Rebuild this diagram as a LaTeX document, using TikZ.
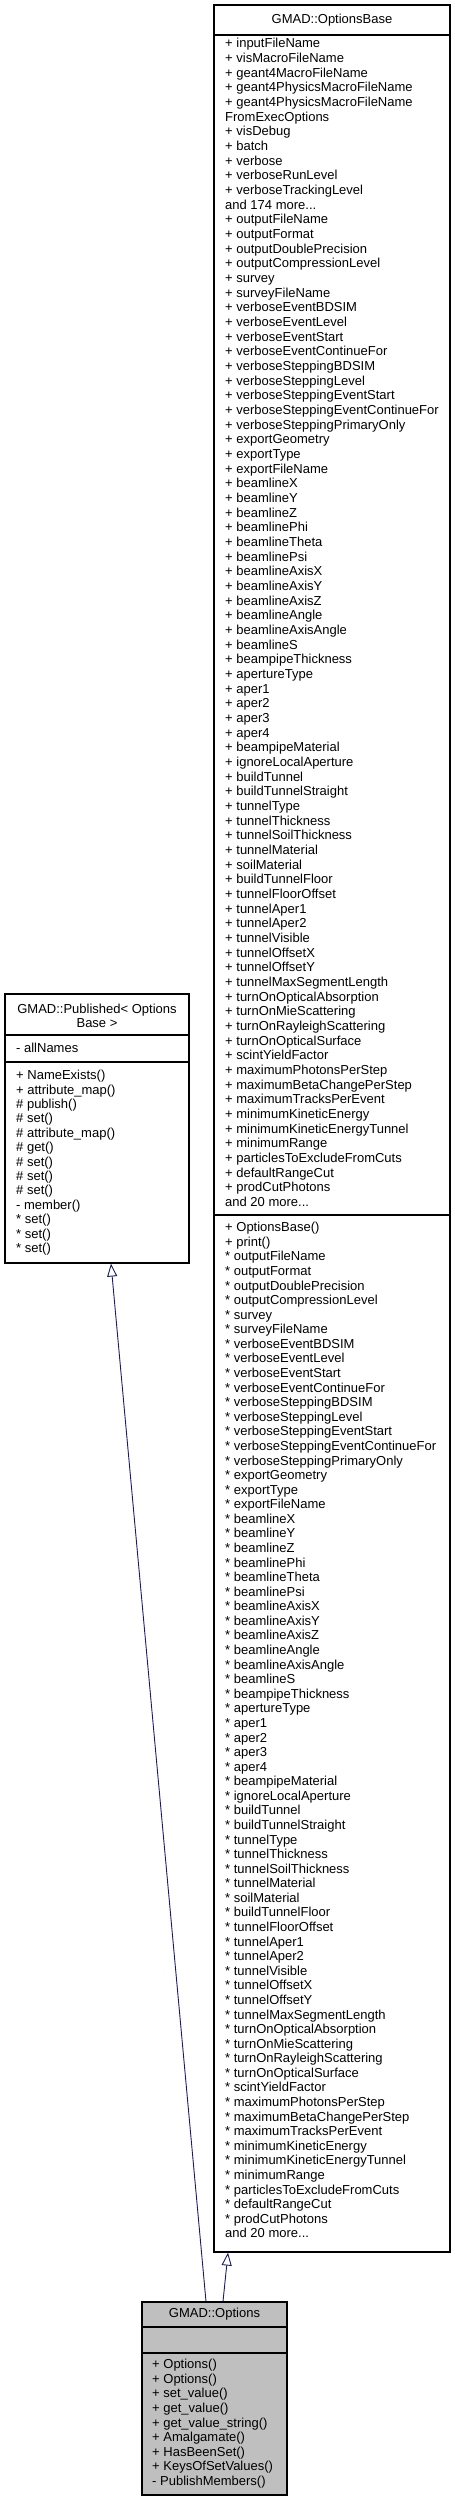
\documentclass[tikz,border=0pt]{standalone}
\usepackage{fontspec}
\setmainfont{Liberation Sans}
\usetikzlibrary{arrows.meta}
\definecolor{edgeblue}{RGB}{25,25,112}
\definecolor{optfill}{RGB}{191,191,191}
\newcommand\mydots{...}
\tikzset{
  classbox/.style={draw=black, line width=1.1pt, inner sep=0pt, fill=white},
  txt/.style={inner sep=0pt, anchor=base west, font=\fontsize{13}{15}\selectfont},
  ttl/.style={inner sep=0pt, anchor=base, font=\fontsize{13}{15}\selectfont},
  sepline/.style={draw=black, line width=1.1pt},
  inherit/.style={draw=edgeblue, line width=0.9pt, -{Triangle[open, length=13pt, width=10pt, fill=white]}}
}
\begin{document}
\begin{tikzpicture}[x=1pt,y=-1pt]
\useasboundingbox (0,0) rectangle (455,2501);
% boxes
\node[classbox, minimum width=236pt, minimum height=2247pt] (ob) at (332,1128.5) {};
\node[classbox, minimum width=184pt, minimum height=269pt] (pub) at (97,1128.5) {};
\node[classbox, fill=optfill, minimum width=145pt, minimum height=193pt] (opt) at (214.5,2398.5) {};
% separators
\draw[sepline] (ob.west |- 0,35) -- (ob.east |- 0,35);
\draw[sepline] (ob.west |- 0,1215) -- (ob.east |- 0,1215);
\draw[sepline] (pub.west |- 0,1035) -- (pub.east |- 0,1035);
\draw[sepline] (pub.west |- 0,1062) -- (pub.east |- 0,1062);
\draw[sepline] (opt.west |- 0,2327) -- (opt.east |- 0,2327);
\draw[sepline] (opt.west |- 0,2353) -- (opt.east |- 0,2353);
% OptionsBase
\node[ttl] (obt) at (332,23) {GMAD::OptionsBase};
\foreach \t [count=\i] in {
+ inputFileName, + visMacroFileName, + geant4MacroFileName, + geant4PhysicsMacroFileName,
+ geant4PhysicsMacroFileName, FromExecOptions, + visDebug, + batch, + verbose,
+ verboseRunLevel, + verboseTrackingLevel, and 174 more\mydots, + outputFileName,
+ outputFormat, + outputDoublePrecision, + outputCompressionLevel, + survey,
+ surveyFileName, + verboseEventBDSIM, + verboseEventLevel, + verboseEventStart,
+ verboseEventContinueFor, + verboseSteppingBDSIM, + verboseSteppingLevel,
+ verboseSteppingEventStart, + verboseSteppingEventContinueFor,
+ verboseSteppingPrimaryOnly, + exportGeometry, + exportType, + exportFileName,
+ beamlineX, + beamlineY, + beamlineZ, + beamlinePhi, + beamlineTheta, + beamlinePsi,
+ beamlineAxisX, + beamlineAxisY, + beamlineAxisZ, + beamlineAngle, + beamlineAxisAngle,
+ beamlineS, + beampipeThickness, + apertureType, + aper1, + aper2, + aper3, + aper4,
+ beampipeMaterial, + ignoreLocalAperture, + buildTunnel, + buildTunnelStraight,
+ tunnelType, + tunnelThickness, + tunnelSoilThickness, + tunnelMaterial, + soilMaterial,
+ buildTunnelFloor, + tunnelFloorOffset, + tunnelAper1, + tunnelAper2, + tunnelVisible,
+ tunnelOffsetX, + tunnelOffsetY, + tunnelMaxSegmentLength, + turnOnOpticalAbsorption,
+ turnOnMieScattering, + turnOnRayleighScattering, + turnOnOpticalSurface,
+ scintYieldFactor, + maximumPhotonsPerStep, + maximumBetaChangePerStep,
+ maximumTracksPerEvent, + minimumKineticEnergy, + minimumKineticEnergyTunnel,
+ minimumRange, + particlesToExcludeFromCuts, + defaultRangeCut, + prodCutPhotons,
and 20 more\mydots}
  \node[txt] (oba\i) at (225,{47.7+14.67*(\i-1)}) {\t};
\foreach \t [count=\i] in {
+ OptionsBase(), + print(), * outputFileName, * outputFormat, * outputDoublePrecision,
* outputCompressionLevel, * survey, * surveyFileName, * verboseEventBDSIM,
* verboseEventLevel, * verboseEventStart, * verboseEventContinueFor,
* verboseSteppingBDSIM, * verboseSteppingLevel, * verboseSteppingEventStart,
* verboseSteppingEventContinueFor, * verboseSteppingPrimaryOnly, * exportGeometry,
* exportType, * exportFileName, * beamlineX, * beamlineY, * beamlineZ, * beamlinePhi,
* beamlineTheta, * beamlinePsi, * beamlineAxisX, * beamlineAxisY, * beamlineAxisZ,
* beamlineAngle, * beamlineAxisAngle, * beamlineS, * beampipeThickness, * apertureType,
* aper1, * aper2, * aper3, * aper4, * beampipeMaterial, * ignoreLocalAperture,
* buildTunnel, * buildTunnelStraight, * tunnelType, * tunnelThickness,
* tunnelSoilThickness, * tunnelMaterial, * soilMaterial, * buildTunnelFloor,
* tunnelFloorOffset, * tunnelAper1, * tunnelAper2, * tunnelVisible, * tunnelOffsetX,
* tunnelOffsetY, * tunnelMaxSegmentLength, * turnOnOpticalAbsorption,
* turnOnMieScattering, * turnOnRayleighScattering, * turnOnOpticalSurface,
* scintYieldFactor, * maximumPhotonsPerStep, * maximumBetaChangePerStep,
* maximumTracksPerEvent, * minimumKineticEnergy, * minimumKineticEnergyTunnel,
* minimumRange, * particlesToExcludeFromCuts, * defaultRangeCut, * prodCutPhotons,
and 20 more\mydots}
  \node[txt] (obm\i) at (225,{1231.7+14.58*(\i-1)}) {\t};
% Published
\node[ttl] (pubt1) at (97,1013.7) {GMAD::Published< Options};
\node[ttl] (pubt2) at (97,1027.7) {Base >};
\node[txt] (puba1) at (16,1052.7) {- allNames};
\foreach \t [count=\i] in {
+ NameExists(), + attribute\_map(), \# publish(), \# set(), \# attribute\_map(),
\# get(), \# set(), \# set(), \# set(), - member(), * set(), * set(), * set()}
  \node[txt] (pubm\i) at (16,{1079.7+14.4*(\i-1)}) {\t};
% Options
\node[ttl] (optt) at (214.5,2317.7) {GMAD::Options};
\foreach \t [count=\i] in {
+ Options(), + Options(), + set\_value(), + get\_value(), + get\_value\_string(),
+ Amalgamate(), + HasBeenSet(), + KeysOfSetValues(), - PublishMembers()}
  \node[txt] (optm\i) at (152,{2368.7+14.6*(\i-1)}) {\t};
% inheritance connectors
\draw[inherit] ([xshift=8.5pt]opt.north) -- ([xshift=-104pt]ob.south);
\draw[inherit] ([xshift=-8.5pt]opt.north) -- ([xshift=14pt]pub.south);
\end{tikzpicture}
\end{document}
